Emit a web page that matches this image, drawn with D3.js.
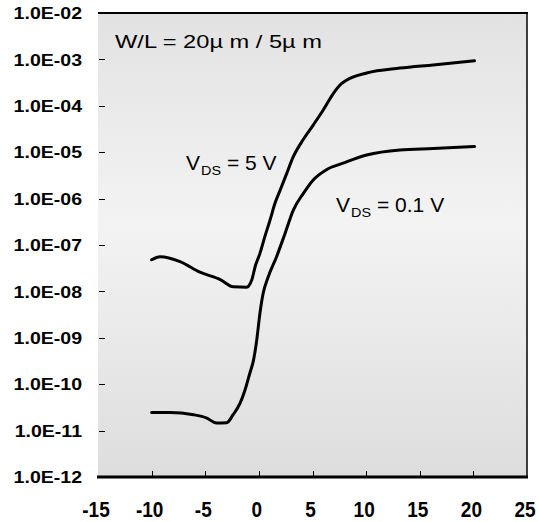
<!DOCTYPE html>
<html lang="en">
<head>
  <meta charset="UTF-8">
  <title>Id-Vgs transfer curves</title>
  <script src="https://d3js.org/d3.v7.min.js"></script>
  <style>
    body {
      margin: 0;
      background: #ffffff;
      font-family: "Liberation Sans", Arial, sans-serif;
    }
    .tick-label {
      font-weight: bold;
      fill: #000;
    }
    .note {
      fill: #000;
    }
  </style>
</head>
<body>
  <div id="chart"></div>

  <script>
    const width = 539, height = 522;

    // axis ticks
    const xTicks = [-15, -10, -5, 0, 5, 10, 15, 20, 25];
    const yTicks = [1e-2, 1e-3, 1e-4, 1e-5, 1e-6, 1e-7, 1e-8, 1e-9, 1e-10, 1e-11, 1e-12];
    const yTickLabels = ["1.0E-02", "1.0E-03", "1.0E-04", "1.0E-05", "1.0E-06", "1.0E-07",
                         "1.0E-08", "1.0E-09", "1.0E-10", "1.0E-11", "1.0E-12"];

    // V_DS = 5 V curve
    const vgs5 = [-10, -9.2, -7.35, -5.5, -3.6, -2.4, -1.15, -0.65, -0.35, 0.1, 0.55, 1.05, 1.5,
                  2.0, 2.6, 3.2, 4.15, 5.05, 6.0, 6.95, 7.7, 8.2, 10.05, 13.15, 16.25, 20.1];
    const id5 = [4.8e-8, 5.6e-8, 4.4e-8, 2.6e-8, 1.8e-8, 1.26e-8, 1.23e-8, 1.8e-8, 3.4e-8, 6.6e-8,
                 1.5e-7, 3.5e-7, 7.9e-7, 1.55e-6, 3.5e-6, 7.9e-6, 1.9e-5, 3.8e-5, 8.1e-5, 1.86e-4,
                 3.0e-4, 3.6e-4, 5.1e-4, 6.5e-4, 7.6e-4, 9.3e-4];

    // V_DS = 0.1 V curve
    const vgs01 = [-10, -8.3, -6.1, -4.85, -3.95, -3.0, -2.4, -1.75, -1.3, -0.85, -0.5, -0.2, 0.1,
                   0.4, 0.85, 1.65, 2.45, 3.2, 4.15, 5.05, 6.3, 7.85, 10.05, 13.15, 16.25, 20.1];
    const id01 = [2.45e-11, 2.45e-11, 2.2e-11, 1.86e-11, 1.45e-11, 1.48e-11, 2.2e-11, 3.9e-11,
                  7.4e-11, 1.7e-10, 3.3e-10, 8.9e-10, 3.4e-9, 9.1e-9, 2.0e-8, 5.6e-8, 1.8e-7,
                  5.6e-7, 1.3e-6, 2.5e-6, 4.2e-6, 5.8e-6, 8.7e-6, 1.12e-5, 1.2e-5, 1.32e-5];

    const plot = { left: 98, right: 527, top: 13, bottom: 477 };

    const svg = d3.select("#chart")
                  .append("svg")
                  .attr("width", width)
                  .attr("height", height);

    const x = d3.scaleLinear().domain([-15, 25]).range([plot.left, plot.right]);
    const y = d3.scaleLog().domain([1e-12, 1e-2]).range([plot.bottom, plot.top]);

    // background gradient of the plot area
    const grad = svg.append("defs").append("linearGradient")
                    .attr("id", "bg").attr("x1", 0).attr("y1", 0).attr("x2", 0).attr("y2", 1);
    grad.append("stop").attr("offset", "0%").attr("stop-color", "#e2e2e2");
    grad.append("stop").attr("offset", "45%").attr("stop-color", "#f3f3f3");
    grad.append("stop").attr("offset", "100%").attr("stop-color", "#dddddd");

    svg.append("rect")
       .attr("x", plot.left).attr("y", plot.top)
       .attr("width", plot.right - plot.left).attr("height", plot.bottom - plot.top)
       .attr("fill", "url(#bg)");

    // frame: top and right lines, thick bottom axis
    svg.append("line")
       .attr("x1", plot.left).attr("x2", plot.right + 1)
       .attr("y1", plot.top).attr("y2", plot.top)
       .attr("stroke", "#000").attr("stroke-width", 2);
    svg.append("line")
       .attr("x1", plot.right).attr("x2", plot.right)
       .attr("y1", plot.top).attr("y2", plot.bottom)
       .attr("stroke", "#000").attr("stroke-width", 1.5);

    // y ticks (small marks inside the plot) + labels
    svg.selectAll(".ytick")
       .data(yTicks.slice(1, -1))
       .join("line")
       .attr("class", "ytick")
       .attr("x1", plot.left + 1).attr("x2", plot.left + 7)
       .attr("y1", d => Math.round(y(d)) + 0.5).attr("y2", d => Math.round(y(d)) + 0.5)
       .attr("stroke", "#000").attr("stroke-width", 1);

    svg.selectAll(".ylab")
       .data(yTicks)
       .join("g")
       .attr("class", "ylab")
       .attr("transform", d => `translate(82,${y(d)}) scale(1.15,1)`)
       .append("text")
       .attr("class", "tick-label")
       .attr("text-anchor", "end")
       .attr("dy", "0.36em")
       .style("font-size", "17px")
       .text((d, i) => yTickLabels[i]);

    // x axis line and ticks
    svg.append("line")
       .attr("x1", plot.left - 1).attr("x2", plot.right + 1)
       .attr("y1", plot.bottom).attr("y2", plot.bottom)
       .attr("stroke", "#000").attr("stroke-width", 3);

    svg.selectAll(".xtick")
       .data(xTicks.slice(1, -1))
       .join("line")
       .attr("class", "xtick")
       .attr("x1", d => Math.round(x(d)) + 0.5).attr("x2", d => Math.round(x(d)) + 0.5)
       .attr("y1", plot.bottom).attr("y2", plot.bottom - 6)
       .attr("stroke", "#000").attr("stroke-width", 1);

    svg.selectAll(".xlab")
       .data(xTicks)
       .join("g")
       .attr("class", "xlab")
       .attr("transform", d => `translate(${x(d) - 2},517) scale(1,1.2)`)
       .append("text")
       .attr("class", "tick-label")
       .attr("text-anchor", "middle")
       .style("font-size", "19px")
       .text(d => d);

    // curves
    const line = d3.line()
                   .x(d => x(d[0]))
                   .y(d => y(d[1]))
                   .curve(d3.curveMonotoneX);

    const series = [
      d3.zip(vgs5, id5),
      d3.zip(vgs01, id01)
    ];

    svg.selectAll(".curve")
       .data(series)
       .join("path")
       .attr("class", "curve")
       .attr("d", line)
       .attr("fill", "none")
       .attr("stroke", "#000")
       .attr("stroke-width", 3)
       .attr("stroke-linejoin", "round")
       .attr("stroke-linecap", "round");

    // annotations
    svg.append("text")
       .attr("class", "note")
       .attr("x", 115).attr("y", 48)
       .attr("textLength", 207)
       .attr("lengthAdjust", "spacingAndGlyphs")
       .style("font-size", "19px")
       .text("W/L = 20\u00b5 m / 5\u00b5 m");

    function vdsLabel(x0, base, rest) {
      const g = svg.append("g").attr("class", "note");
      g.append("text").attr("x", x0).attr("y", base)
       .style("font-size", "21px").text("V");
      g.append("text").attr("x", x0 + 15).attr("y", base + 5)
       .attr("textLength", 20).attr("lengthAdjust", "spacingAndGlyphs")
       .style("font-size", "12px").text("DS");
      g.append("text").attr("x", x0 + 41).attr("y", base)
       .style("font-size", "21px").text(rest);
    }
    vdsLabel(186, 170, "= 5 V");
    vdsLabel(336, 212, "= 0.1 V");
  </script>
</body>
</html>
